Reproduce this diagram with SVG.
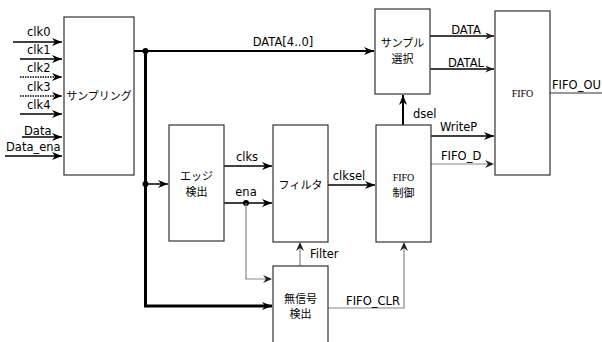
<svg xmlns="http://www.w3.org/2000/svg" width="602" height="342" viewBox="0 0 602 342">
<defs>
<marker id="ah" viewBox="0 0 10 8" refX="10" refY="4" markerWidth="10" markerHeight="8" markerUnits="userSpaceOnUse" orient="auto">
<path d="M0,0 L10,4 L0,8 L3,4 z" fill="#000"/>
</marker>
<marker id="ahg" viewBox="0 0 10 8" refX="10" refY="4" markerWidth="9" markerHeight="7" markerUnits="userSpaceOnUse" orient="auto">
<path d="M0,0 L10,4 L0,8 L3,4 z" fill="#222"/>
</marker>
</defs>
<style>
.box{fill:#fff;stroke:#333;stroke-width:1.2}
.t{font-family:"DejaVu Sans",sans-serif;font-size:11.5px;fill:#000}
.j{font-family:"Noto Sans CJK JP",sans-serif;font-size:11px;fill:#000;text-anchor:middle}
.s{font-family:"Liberation Serif",serif;font-size:10px;fill:#000;text-anchor:middle}
.w{fill:none;stroke:#000;stroke-width:1.5}
.g{fill:none;stroke:#888;stroke-width:1.2}
.d{fill:none;stroke:#000;stroke-width:1.5;stroke-dasharray:1.5 1}
.m{text-anchor:middle}
</style>
<g id="connectors">
<line class="w" x1="13" y1="42" x2="62" y2="42" marker-end="url(#ah)"/>
<line class="w" x1="20" y1="59" x2="62" y2="59" marker-end="url(#ah)"/>
<line class="d" x1="20" y1="77" x2="62" y2="77" marker-end="url(#ah)"/>
<line class="d" x1="20" y1="96" x2="62" y2="96" marker-end="url(#ah)"/>
<line class="w" x1="20" y1="114" x2="62" y2="114" marker-end="url(#ah)"/>
<line class="w" x1="22" y1="137" x2="62" y2="137" marker-end="url(#ah)"/>
<line class="w" x1="5" y1="156" x2="62" y2="156" marker-end="url(#ah)"/>
<line x1="134" y1="51" x2="374" y2="51" stroke="#000" stroke-width="2" marker-end="url(#ah)"/>
<polyline points="145.5,51 145.5,306 272,306" fill="none" stroke="#000" stroke-width="3"/>
<line x1="255" y1="306" x2="272" y2="306" stroke="#000" stroke-width="1.5" marker-end="url(#ah)"/>
<circle cx="145.5" cy="51" r="3"/>
<circle cx="145.5" cy="184" r="3"/>
<line class="w" x1="145.5" y1="184" x2="168" y2="184" marker-end="url(#ah)"/>
<line class="w" x1="224" y1="166" x2="272" y2="166" marker-end="url(#ah)"/>
<line class="w" x1="224" y1="203" x2="272" y2="203" marker-end="url(#ah)"/>
<circle cx="246" cy="203" r="3"/>
<polyline class="g" points="246,203 246,279 271,279"/>
<line class="w" x1="246" y1="279" x2="272" y2="279" stroke-width="1" marker-end="url(#ahg)" opacity="0"/>
<path d="M263,275 L272,279 L263,283 L266,279 z" fill="#222"/>
<line class="g" x1="300" y1="266" x2="300" y2="244"/>
<path d="M296,251 L300,242 L304,251 L300,248 z" fill="#222"/>
<line class="w" x1="328" y1="185" x2="375" y2="185" marker-end="url(#ah)"/>
<line x1="403" y1="125" x2="403" y2="95" stroke="#000" stroke-width="2" marker-end="url(#ah)"/>
<polyline class="g" points="328,308 404,308 404,244"/>
<path d="M400,251 L404,242 L408,251 L404,248 z" fill="#222"/>
<line class="w" x1="430" y1="36" x2="494" y2="36" stroke-width="1.2" marker-end="url(#ahg)"/>
<line class="w" x1="430" y1="69" x2="494" y2="69" stroke-width="1.2" marker-end="url(#ahg)"/>
<line class="w" x1="431" y1="136" x2="494" y2="136" stroke-width="2" marker-end="url(#ah)"/>
<line class="g" x1="431" y1="164" x2="489" y2="164"/>
<path d="M485,160 L494,164 L485,168 L488,164 z" fill="#222"/>
<line x1="550" y1="93" x2="602" y2="93" stroke="#333" stroke-width="1.2"/>
</g>
<g id="sampling"><rect class="box" x="64" y="17" width="70" height="158"/><text class="j" x="99" y="100" font-size="10px">サンプリング</text></g>
<g id="edge"><rect class="box" x="169" y="125" width="55" height="116"/><text class="j" x="196.5" y="180">エッジ</text><text class="j" x="196.5" y="196">検出</text></g>
<g id="filter"><rect class="box" x="273" y="125" width="55" height="117"/><text class="j" x="300.5" y="189">フィルタ</text></g>
<g id="fifoctl"><rect class="box" x="376" y="125" width="55" height="117"/><text class="s" x="403.5" y="181">FIFO</text><text class="j" x="403.5" y="197">制御</text></g>
<g id="select"><rect class="box" x="375" y="9" width="55" height="85"/><text class="j" x="402.5" y="47" font-size="12px">サンプル</text><text class="j" x="402.5" y="63">選択</text></g>
<g id="fifo"><rect class="box" x="495" y="11" width="55" height="164"/><text class="s" x="522.5" y="97">FIFO</text></g>
<g id="nosignal"><rect class="box" x="273" y="266" width="55" height="80"/><text class="j" x="300.5" y="303">無信号</text><text class="j" x="300.5" y="318">検出</text></g>
<g id="labels">
<text class="t" x="27" y="36">clk0</text>
<text class="t" x="27" y="54">clk1</text>
<text class="t" x="27" y="72">clk2</text>
<text class="t" x="27" y="91">clk3</text>
<text class="t" x="27" y="109">clk4</text>
<text class="t" x="24" y="135">Data</text>
<text class="t" x="6" y="151">Data_ena</text>
<text class="t m" x="283" y="46">DATA[4..0]</text>
<text class="t m" x="247" y="161">clks</text>
<text class="t m" x="246" y="196">ena</text>
<text class="t m" x="349" y="180">clksel</text>
<text class="t" x="413" y="118">dsel</text>
<text class="t" x="310" y="258">Filter</text>
<text class="t m" x="373" y="305">FIFO_CLR</text>
<text class="t m" x="466" y="34">DATA</text>
<text class="t m" x="466" y="67">DATAL</text>
<text class="t" x="440" y="131">WriteP</text>
<text class="t" x="441" y="160">FIFO_D</text>
<text class="t" x="552" y="89">FIFO_OU</text>
</g>
</svg>
